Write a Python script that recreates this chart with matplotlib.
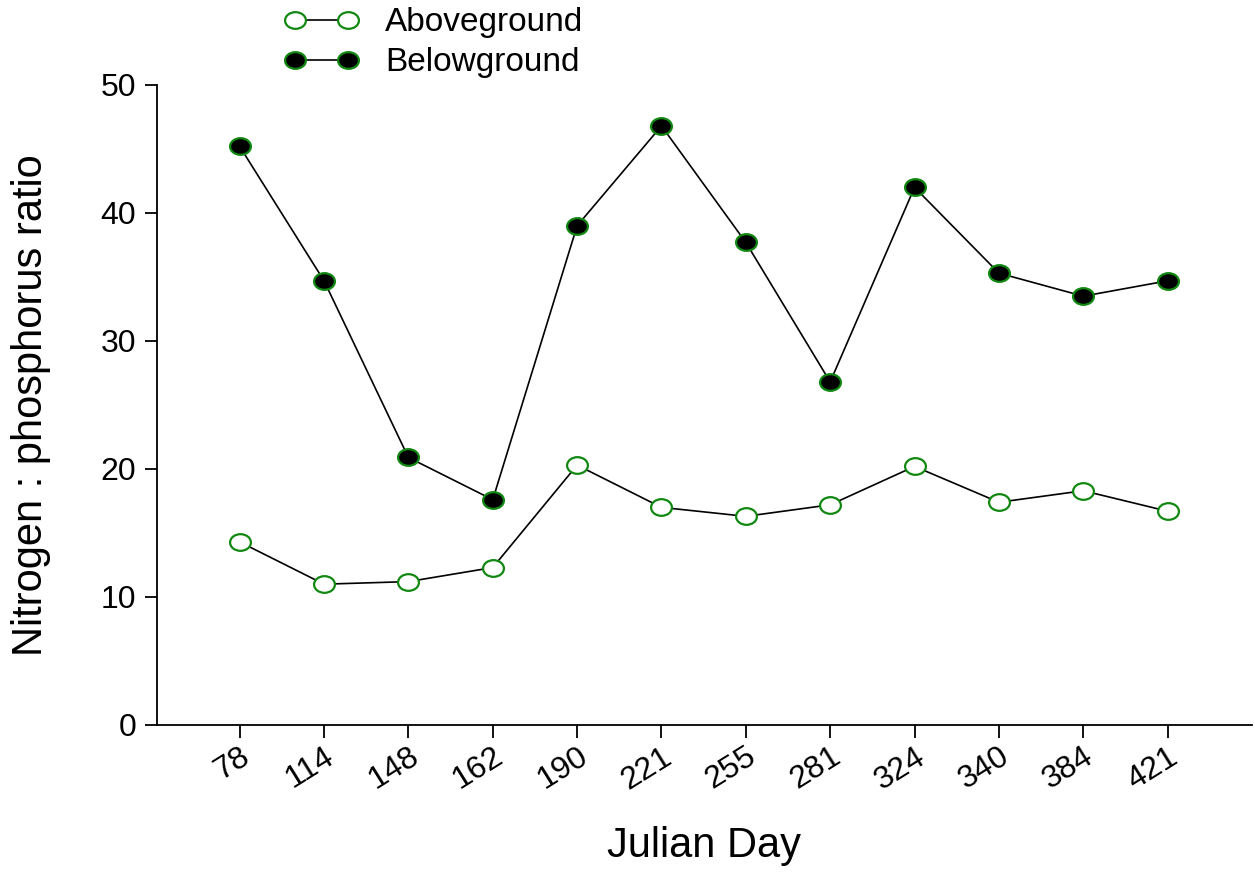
import matplotlib
matplotlib.use("Agg")
import matplotlib.pyplot as plt
import numpy as np
from matplotlib.path import Path
from matplotlib.transforms import Affine2D

plt.rcParams['font.family'] = ['Liberation Sans', 'DejaVu Sans']

days = ["78", "114", "148", "162", "190", "221", "255", "281", "324", "340", "384", "421"]
aboveground = [14.3, 11.0, 11.2, 12.3, 20.3, 17.0, 16.3, 17.2, 20.2, 17.4, 18.3, 16.7]
belowground = [45.2, 34.7, 20.9, 17.6, 39.0, 46.8, 37.7, 26.8, 42.0, 35.3, 33.5, 34.7]

ellipse = Path.unit_circle().transformed(Affine2D().scale(1.25, 1.0))

fig = plt.figure(figsize=(12.55, 8.76), dpi=100)
ax = fig.add_axes([0.1251, 0.1724, 0.8725, 0.7306])
x = np.arange(len(days))
green = '#118811'
l1, = ax.plot(x, aboveground, '-', color='black', lw=1.2, marker=ellipse, ms=15,
              mfc='white', mec=green, mew=1.6, label='Aboveground')
l2, = ax.plot(x, belowground, '-', color='black', lw=1.2, marker=ellipse, ms=15,
              mfc='black', mec=green, mew=1.6, label='Belowground')

ax.set_xlim(-0.98, 12.0)
ax.set_ylim(0, 50)
ax.set_yticks([0, 10, 20, 30, 40, 50])
ax.set_xticks(x)
ax.set_xticklabels(days, rotation=32, ha='right', rotation_mode='anchor')
ax.tick_params(axis='both', labelsize=23, direction='out', length=9, width=1.3, pad=6)
ax.tick_params(axis='x', pad=3)
for s in ['top', 'right']:
    ax.spines[s].set_visible(False)
for s in ['left', 'bottom']:
    ax.spines[s].set_linewidth(1.3)
ax.set_xlabel('Julian Day', fontsize=30, labelpad=22)
ax.set_ylabel('Nitrogen : phosphorus ratio', fontsize=30, labelpad=36)

fig.legend(handles=[l1, l2], loc='upper left', bbox_to_anchor=(0.203, 1.026),
           frameon=False, fontsize=24, handlelength=2.2, handletextpad=0.8,
           labelspacing=0.27, numpoints=2)

fig.savefig('out.png', dpi=100)
